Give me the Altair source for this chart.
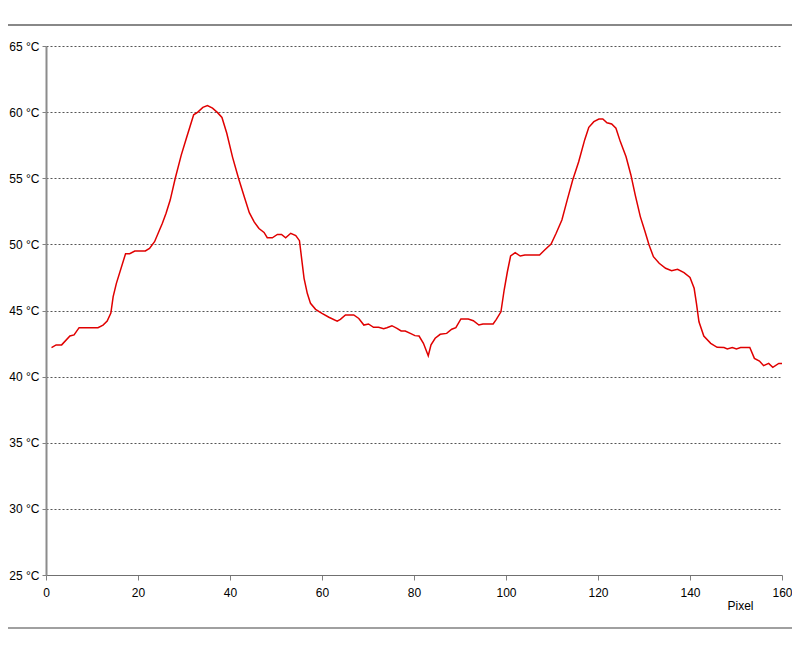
import altair as alt
import pandas as pd

# Pixel position along the profile
px = [1.2, 2.2, 3.4, 5.2, 6.1, 7.2, 11.3, 12.4, 13.3, 14.1, 14.6, 15.3, 17.3, 18.2, 19.3,
      21.6, 22.5, 23.6, 24.7, 25.3, 26.1, 27.0, 28.1, 29.4, 30.5, 32.1, 33.0, 34.1, 35.1,
      36.2, 37.3, 38.25, 39.3, 40.55, 41.85, 43.1, 44.2, 45.25, 46.3, 47.4, 48.1, 49.2,
      50.3, 51.2, 52.1, 53.2, 54.3, 55.1, 55.7, 56.1, 56.8, 57.5, 58.6, 60.0, 61.5, 63.3,
      64.0, 65.1, 66.9, 68.0, 69.1, 70.1, 71.2, 72.3, 73.4, 74.1, 75.2, 76.3, 77.2, 78.1,
      79.2, 80.2, 81.1, 82.05, 83.1, 83.7, 84.6, 85.7, 87.1, 88.2, 89.1, 90.2, 91.8, 92.9,
      94.1, 95.0, 97.2, 97.9, 98.9, 99.6, 100.3, 101.0, 102.0, 103.1, 104.1, 107.3, 108.4,
      109.8, 110.9, 112.15, 113.3, 114.5, 115.8, 117.1, 118.0, 119.1, 120.2, 121.05, 121.95,
      122.97, 123.9, 124.85, 126.1, 127.15, 128.1, 129.2, 130.2, 131.1, 132.05, 133.3,
      134.7, 136.0, 137.3, 138.7, 140.0, 140.9, 141.4, 141.95, 143.0, 144.5, 145.9, 147.4,
      148.1, 149.2, 150.1, 151.0, 153.0, 154.0, 155.1, 156.0, 157.1, 158.0, 159.3, 160.0]

# Temperature in °C
temp = [42.2, 42.4, 42.4, 43.07, 43.15, 43.7, 43.7, 43.9, 44.2, 44.8, 46.05, 47.05, 49.3, 49.3, 49.5,
        49.5, 49.7, 50.2, 51.1, 51.6, 52.35, 53.35, 55.0, 56.75, 58.0, 59.8, 60.0, 60.36, 60.49,
        60.3, 59.96, 59.6, 58.4, 56.6, 55.0, 53.6, 52.4, 51.7, 51.2, 50.9, 50.5, 50.5,
        50.75, 50.75, 50.5, 50.84, 50.66, 50.28, 48.57, 47.43, 46.3, 45.54, 45.09, 44.79, 44.49, 44.2,
        44.33, 44.66, 44.66, 44.4, 43.9, 43.98, 43.73, 43.73, 43.62, 43.7, 43.85, 43.65, 43.45, 43.45,
        43.27, 43.1, 43.07, 42.52, 41.58, 42.4, 42.9, 43.2, 43.27, 43.58, 43.7, 44.36, 44.36, 44.23,
        43.9, 43.98, 43.98, 44.33, 44.9, 46.55, 47.93, 49.12, 49.37, 49.12, 49.2, 49.2, 49.57,
        50.03, 50.84, 51.84, 53.35, 54.87, 56.25, 57.9, 58.85, 59.28, 59.48, 59.48, 59.2,
        59.1, 58.78, 57.77, 56.63, 55.25, 53.73, 52.1, 51.0, 49.95, 49.07, 48.57,
        48.19, 48.01, 48.12, 47.86, 47.5, 46.68, 45.54, 44.15, 43.07, 42.52, 42.22, 42.2,
        42.1, 42.2, 42.1, 42.2, 42.2, 41.38, 41.18, 40.83, 41.0, 40.7, 41.0, 41.0]

x_ticks = [0, 20, 40, 60, 80, 100, 120, 140, 160]
y_ticks = [25, 30, 35, 40, 45, 50, 55, 60, 65]

df = pd.DataFrame({"x": px, "y": temp})
dummy = pd.DataFrame({"a": [0]})

FONT = "Liberation Sans"

line = alt.Chart(df).mark_line(color="#e00000", strokeWidth=1.5).encode(
    x=alt.X("x:Q", scale=alt.Scale(domain=[0, 160], nice=False, zero=False),
            axis=alt.Axis(values=x_ticks, grid=False, title="Pixel",
                          titleX=694, titleY=30, titleAlign="center", titleBaseline="middle",
                          titleFontWeight="normal", titleFontSize=12, titleFont=FONT,
                          titleColor="#000000",
                          labelFont=FONT, labelFontSize=12, labelColor="#000000",
                          labelPadding=7, tickSize=5, tickColor="#808080",
                          domainColor="#707070", domainWidth=1, labelFlush=False)),
    y=alt.Y("y:Q", scale=alt.Scale(domain=[25, 65], nice=False, zero=False),
            axis=alt.Axis(values=y_ticks, labelExpr="datum.value + ' °C'", title=None,
                          grid=True, gridDash=[2, 2], gridColor="#555555", gridWidth=1,
                          labelFont=FONT, labelFontSize=12, labelColor="#000000",
                          labelPadding=3, tickSize=4, tickColor="#808080",
                          domainColor="#8c8c8c", domainWidth=2)),
)

top_rule = alt.Chart(dummy).mark_rule(color="#606060", strokeWidth=1.5).encode(
    x=alt.value(-38), x2=alt.value(746), y=alt.value(-21))
bottom_rule = alt.Chart(dummy).mark_rule(color="#a0a0a0", strokeWidth=2).encode(
    x=alt.value(-38), x2=alt.value(746), y=alt.value(582))

chart = alt.layer(line, top_rule, bottom_rule).properties(
    width=736, height=529,
    autosize=alt.AutoSizeParams(type="none"),
    padding={"left": 38, "top": 38, "right": 10, "bottom": 56},
    background="#ffffff",
).configure_view(stroke=None)

chart.save("out.html", embed_options={"renderer": "svg", "actions": False})
